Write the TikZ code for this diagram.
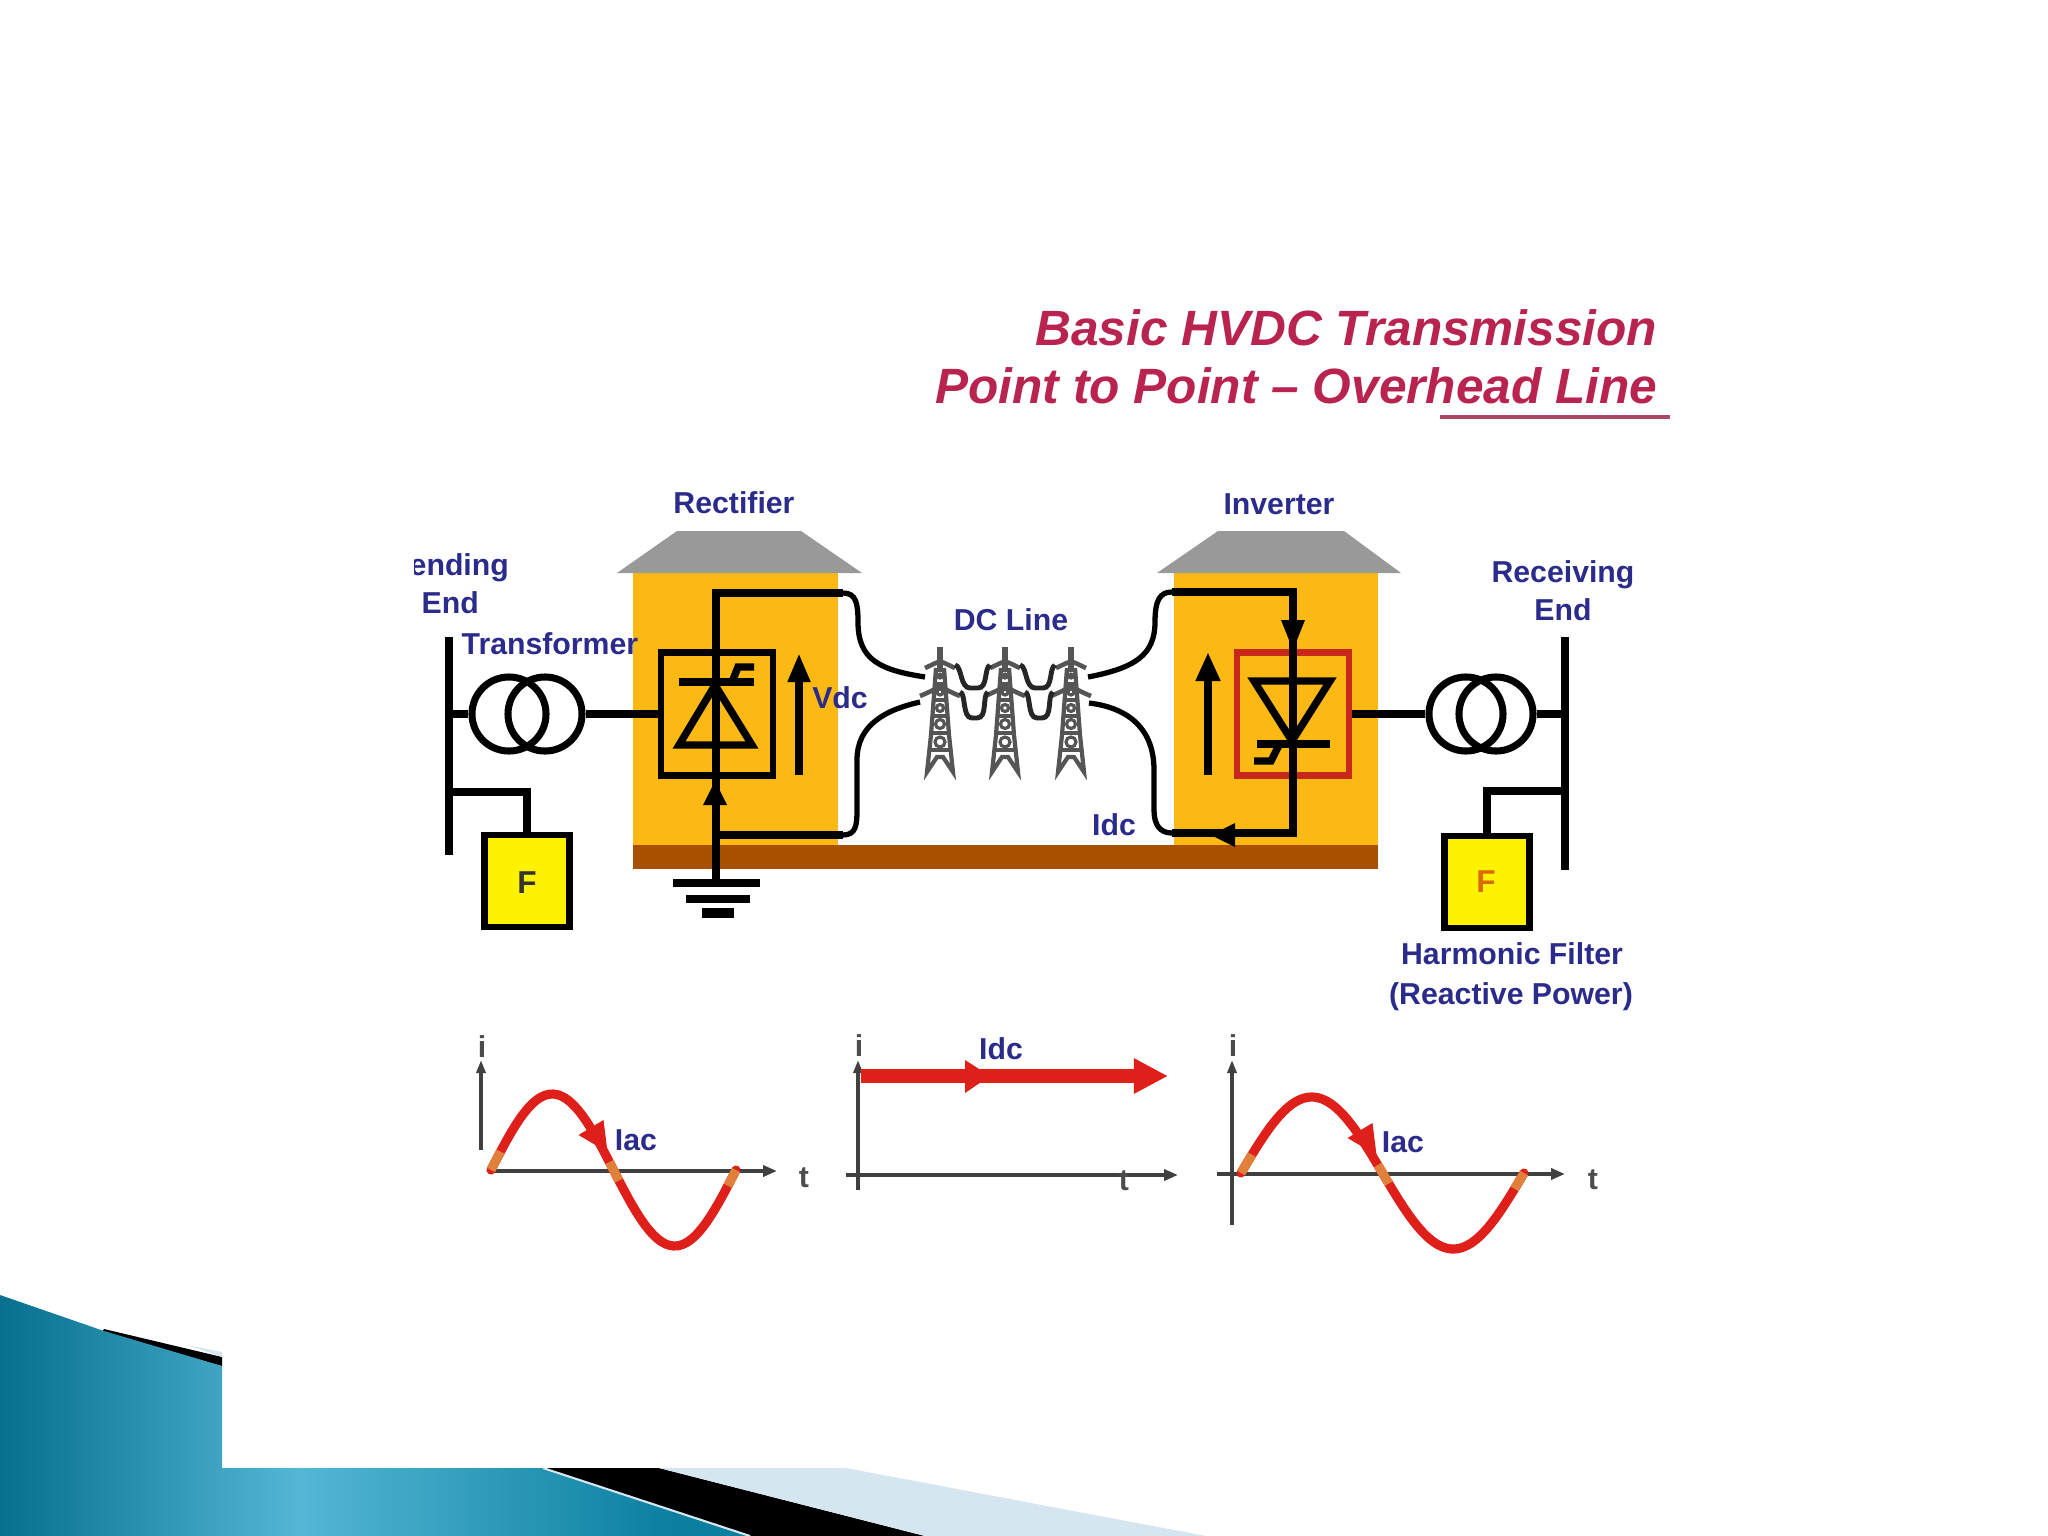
\documentclass[tikz,border=0pt]{standalone}
\usepackage{tikz}
\usepackage{fontspec}
\setmainfont{Liberation Sans}
\usetikzlibrary{arrows.meta}

\definecolor{labelblue}{HTML}{2B2B8C}
\definecolor{titlered}{HTML}{B8234F}
\definecolor{hallyellow}{HTML}{FDB913}
\definecolor{floorbrown}{HTML}{A85000}
\definecolor{roofgray}{HTML}{999999}
\definecolor{wavered}{HTML}{DE1F1A}
\definecolor{waveorange}{HTML}{E0803A}
\definecolor{boxred}{HTML}{C8281C}
\definecolor{towergray}{HTML}{555555}
\definecolor{slidedark}{HTML}{06708E}
\definecolor{slidelight}{HTML}{55B6D6}
\definecolor{slideedge}{HTML}{0A7FA0}
\definecolor{slidepale}{HTML}{D6E6F1}

\pgfdeclarehorizontalshading{slidewave}{100bp}{
        color(0bp)=(slidedark);
        color(25bp)=(slidedark);
        color(45bp)=(slidelight);
        color(70bp)=(slideedge);
        color(100bp)=(slideedge)}

\tikzset{
        wire/.style={line width=2.1pt, black},
        cable/.style={line width=1.5pt, black},
        axisline/.style={line width=1.1pt, black!75},
        label/.style={font=\fontsize{8.6}{10}\selectfont\bfseries, text=labelblue, anchor=base, inner sep=0pt},
        axislabel/.style={label, text=black!70},
        titletext/.style={font=\fontsize{14.1}{16}\selectfont\bfseries\itshape, text=titlered, anchor=base east, inner sep=0pt},
        coil/.style={circle, draw, line width=2pt, minimum size=.74cm, inner sep=0pt},
        filterbox/.style={draw, line width=1.9pt, fill=yellow, minimum width=.85cm, minimum height=.92cm, inner sep=0pt},
        filterletter/.style={font=\fontsize{9}{10}\selectfont\bfseries, anchor=base, inner sep=0pt},
        valvebox/.style={draw, line width=1.9pt, minimum width=1.12cm, minimum height=1.23cm, inner sep=0pt}
}

\newcommand{\pylon}[1]{
        \begin{scope}[shift={(#1,0)}, towergray]
            \draw[line width=1.6pt] (0,647) -- (0,672);
            \draw[line width=1.3pt] (-15,668) .. controls (-8,665) and (-4,662) .. (0,662) .. controls (4,662) and (8,665) .. (15,668);
            \draw[line width=1.3pt] (-20,696) .. controls (-10,692) and (-4,688) .. (0,688) .. controls (4,688) and (10,692) .. (20,696);
            \draw[line width=1.2pt] (-4,668) -- (-9,735) -- (-13,772) -- (-3,757) -- (3,757) -- (13,772) -- (9,735) -- (4,668);
            \foreach \yy/\rr in {676/2, 692/3, 708/3.5, 724/4.5, 742/5}
                \draw[line width=.9pt] (0,\yy) circle (\rr);
            \foreach \yy/\ww in {684/4, 700/6, 716/7, 733/8, 750/9}
                \draw[line width=.9pt] (-\ww,\yy) -- (\ww,\yy);
        \end{scope}
}

\newcommand{\sinewave}[3]{
        \draw[wavered, line width=2.6pt, line cap=round] plot[domain=0:360, samples=60, smooth] ({#1+\x/360*#2},{#3-76*sin(\x)});
        \draw[waveorange, line width=2.6pt] plot[domain=0:14, samples=6] ({#1+\x/360*#2},{#3-76*sin(\x)});
        \draw[waveorange, line width=2.6pt] plot[domain=174:188, samples=6] ({#1+\x/360*#2},{#3-76*sin(\x)});
        \draw[waveorange, line width=2.6pt] plot[domain=348:360, samples=6] ({#1+\x/360*#2},{#3-76*sin(\x)});
        \fill[wavered] ({#1+#2/2-10},{#3-50}) -- ({#1+#2/2-35},{#3-35}) -- ({#1+#2/2-6},{#3-18}) -- cycle;
}

\begin{document}
\begin{tikzpicture}[x=.01cm, y=-.01cm]

            \useasboundingbox (0,0) rectangle (2048,1536);

            % slide corner
            \fill[black] (104,1329) -- (222,1357) -- (222,1366) -- (100,1335) -- cycle;
            \fill[slidepale] (187,1345) -- (222,1352) -- (222,1357) -- cycle;
            \fill[black] (543,1468) -- (659,1468) -- (925,1536) -- (750,1536) -- cycle;
            \fill[slidepale] (659,1468) -- (846,1468) -- (1206,1536) -- (925,1536) -- cycle;
            \shade[shading=slidewave] (0,1295) -- (104,1331) -- (222,1366) -- (222,1468) -- (543,1468) -- (750,1536) -- (0,1536) -- cycle;
            \draw[slidepale, line width=.6pt] (543,1468) -- (750,1536);

            % title
            \node[titletext] (titleA) at (1658,345) {Basic HVDC Transmission};
            \node[titletext] (titleB) at (1658,403) {Point to Point – Overhead Line};
            \coordinate (ruleA) at (1440,417);
            \coordinate (ruleB) at (1670,417);
            \draw[titlered!80!black!80, line width=1pt] (ruleA) -- (ruleB);

            % halls
            \fill[hallyellow] (633,573) rectangle (838,846);
            \fill[hallyellow] (1174,573) rectangle (1378,846);
            \fill[floorbrown] (633,845) rectangle (1378,869);
            \fill[roofgray] (617,573) -- (677,531) -- (801,531) -- (862,573) -- cycle;
            \fill[roofgray] (1157,573) -- (1218,531) -- (1344,531) -- (1401,573) -- cycle;

            \node[label] (rectlabel) at (734,513) {Rectifier};
            \node[label] (invlabel) at (1279,514) {Inverter};

            % towers and line
            \pylon{940}
            \pylon{1005}
            \pylon{1071}
            \foreach \xa in {955,1020}{
                \draw[black!85, line width=1.4pt] (\xa,665) .. controls (\xa+7,666) and (\xa+5,688) .. (\xa+15,688) -- (\xa+23,688) .. controls (\xa+33,688) and (\xa+29,668) .. (\xa+35,665);
                \draw[black!85, line width=1.4pt] (\xa+5,692) .. controls (\xa+11,693) and (\xa+7,718) .. (\xa+17,718) -- (\xa+22,718) .. controls (\xa+33,718) and (\xa+27,695) .. (\xa+33,692);
            }
            \node[label] (dclabel) at (1011,630) {DC Line};

            \coordinate (cabTL) at (925,677);
            \coordinate (cabBL) at (920,702);
            \coordinate (cabTR) at (1088,677);
            \coordinate (cabBR) at (1089,703);

            % sending side
            \coordinate (busLtop) at (449,637);
            \coordinate (busLbot) at (449,855);
            \coordinate (tapL) at (449,792);
            \node[coil] (coilLa) at (509,714) {};
            \node[coil] (coilLb) at (545,714) {};
            \node[valvebox] (valveL) at (717,714) {};
            \node[filterbox] (filterL) at (527,881) {};
            \node[filterletter, text=black!80] (filterLtext) at (527,893) {F};
            \draw[wire] (busLtop) -- (busLbot);
            \draw[wire] (coilLa.west -| busLtop) -- (coilLa.west);
            \draw[wire] (coilLb.east) -- (valveL.west);
            \draw[wire] (tapL) -| (filterL.north);

            % rectifier
            \coordinate (gndL) at (716,883);
            \draw[wire] (gndL) -- (716,593) -- (843,593);
            \draw[wire] (716,835) -- (843,835);
            \draw[cable] (843,593) .. controls (856,593) and (858,603) .. (858,622) .. controls (858,660) and (880,670) .. (cabTL);
            \draw[cable] (843,835) .. controls (856,835) and (857,825) .. (857,810) -- (857,760) .. controls (857,725) and (885,710) .. (cabBL);
            \draw[wire] (679,745) -- (752,745) -- (715,685) -- cycle;
            \draw[wire] (679,682) -- (754,682);
            \draw[wire] (732,682) -- (738,667) -- (754,667);
            \fill (715,781) -- (703,805) -- (727,805) -- cycle;
            \draw[line width=2.1pt, -{Triangle[length=.29cm, width=.21cm]}] (799,775) -- (799,653);
            \draw[wire] (673,883) -- (760,883);
            \draw[wire] (686,899) -- (750,899);
            \draw[line width=2.8pt] (702,913) -- (734,913);
            \node[label] (vdclabel) at (840,708) {Vdc};

            % receiving side
            \coordinate (busRtop) at (1565,637);
            \coordinate (busRbot) at (1565,870);
            \coordinate (tapR) at (1565,791);
            \node[coil] (coilRa) at (1466,714) {};
            \node[coil] (coilRb) at (1496,714) {};
            \node[valvebox, draw=boxred] (valveR) at (1293,714) {};
            \node[filterbox] (filterR) at (1487,882) {};
            \node[filterletter, text=orange!85!black] (filterRtext) at (1486,892) {F};
            \draw[wire] (busRtop) -- (busRbot);
            \draw[wire] (coilRb.east) -- (coilRb.east -| busRtop);
            \draw[wire] (coilRa.west) -- (valveR.east);
            \draw[wire] (tapR) -| (filterR.north);

            % inverter
            \draw[cable] (cabTR) .. controls (1135,668) and (1155,655) .. (1155,622) .. controls (1155,600) and (1160,592) .. (1172,592);
            \draw[cable] (cabBR) .. controls (1130,708) and (1154,730) .. (1154,770) -- (1154,810) .. controls (1154,825) and (1160,833) .. (1172,833);
            \draw[wire] (1172,592) -- (1293,592) -- (1293,833) -- (1172,833);
            \draw[wire] (1254,681) -- (1330,681) -- (1292,741) -- cycle;
            \draw[wire] (1257,744) -- (1330,744);
            \draw[wire] (1279,745) -- (1271,761) -- (1254,761);
            \fill (1293,650) -- (1281,620) -- (1305,620) -- cycle;
            \fill (1211,835) -- (1235,823) -- (1235,847) -- cycle;
            \draw[line width=2.1pt, -{Triangle[length=.29cm, width=.23cm]}] (1208,775) -- (1208,652);
            \node[label] (idclabel) at (1114,835) {Idc};

            % texts round the buses
            \begin{scope}
                \clip (414,540) rectangle (530,590);
                \node[label, anchor=base west] (sendA) at (409,575) {ending};
            \end{scope}
            \node[label, anchor=base west] (sendB) at (421,613) {End};
            \node[label, anchor=base west] (trafolabel) at (461,654) {Transformer};
            \node[label] (recvA) at (1563,582) {Receiving};
            \node[label] (recvB) at (1563,620) {End};
            \node[label] (harmA) at (1512,964) {Harmonic Filter};
            \node[label] (harmB) at (1511,1004) {(Reactive Power)};

            % first plot
            \draw[axisline, -{Triangle[length=.13cm, width=.09cm]}] (481,1150) -- (481,1060);
            \draw[axisline, -{Triangle[length=.14cm, width=.11cm]}] (491,1171) -- (777,1171);
            \sinewave{491}{245}{1170}
            \node[axislabel] (plotAi) at (482,1057) {i};
            \node[label] (plotAac) at (636,1150) {Iac};
            \node[axislabel] (plotAt) at (804,1187) {t};

            % second plot
            \draw[axisline, -{Triangle[length=.13cm, width=.09cm]}] (858,1190) -- (858,1060);
            \draw[axisline, -{Triangle[length=.14cm, width=.11cm]}] (846,1175) -- (1178,1175);
            \coordinate (dcstart) at (861,1076);
            \coordinate (dcend) at (1168,1076);
            \draw[wavered, line width=3.8pt, -{Triangle[length=.34cm, width=.33cm]}] (dcstart) -- (dcend);
            \fill[wavered] (990,1076) -- (965,1060) -- (965,1093) -- cycle;
            \node[axislabel] (plotBi) at (859,1056) {i};
            \node[label] (plotBdc) at (1001,1059) {Idc};
            \node[axislabel] (plotBt) at (1124,1190) {t};

            % third plot
            \draw[axisline, -{Triangle[length=.13cm, width=.09cm]}] (1232,1225) -- (1232,1060);
            \draw[axisline, -{Triangle[length=.14cm, width=.11cm]}] (1217,1174) -- (1565,1174);
            \sinewave{1241}{283}{1173}
            \node[axislabel] (plotCi) at (1233,1056) {i};
            \node[label] (plotCac) at (1403,1152) {Iac};
            \node[axislabel] (plotCt) at (1593,1189) {t};

        \end{tikzpicture}
\end{document}
